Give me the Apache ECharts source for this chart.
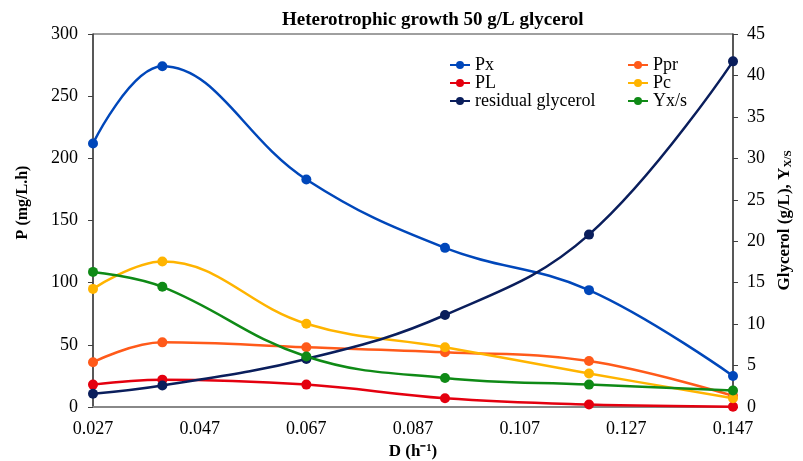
<!DOCTYPE html>
<html>
<head>
  <meta charset="utf-8">
  <title>Heterotrophic growth 50 g/L glycerol</title>
  <script src="https://cdn.jsdelivr.net/npm/echarts@6.0.0/dist/echarts.min.js"></script>
  <style>
    html, body { margin: 0; padding: 0; background: #fff; }
    #chart { width: 803px; height: 461px; }
  </style>
</head>
<body>
  <div id="chart"></div>
  <script>
    // dilution rate D (h-1)
    let dilution = [0.027, 0.040, 0.067, 0.093, 0.120, 0.147];
    let xTicks = [0.027, 0.047, 0.067, 0.087, 0.107, 0.127, 0.147];
    // productivities P (mg/L.h) - left axis
    let px = [212, 274, 183, 128, 94, 25];
    let ppr = [36, 52, 48, 44, 37, 9];
    let pl = [18, 22, 18, 7, 2, 0.3];
    let pc = [95, 117, 67, 48, 27, 7];
    // glycerol (g/L) and Yx/s - right axis
    let glycerol = [1.6, 2.6, 5.8, 11.1, 20.8, 41.7];
    let yxs = [16.3, 14.5, 6.1, 3.5, 2.7, 2.0];

    let font = 'Liberation Serif';

    function pairs(ys) {
      let out = [];
      for (let i = 0; i < ys.length; i++) {
        out.push([dilution[i], ys[i]]);
      }
      return out;
    }

    function line(name, color, ys, axis) {
      return {
        name: name,
        type: 'line',
        yAxisIndex: axis,
        smooth: 0.4,
        symbol: 'circle',
        symbolSize: 10,
        lineStyle: { color: color, width: 2.5 },
        itemStyle: { color: color },
        data: pairs(ys)
      };
    }

    let myChart = echarts.init(document.getElementById('chart'));
    let option = {
      animation: false,
      title: {
        text: 'Heterotrophic growth 50 g/L glycerol',
        left: 277,
        top: 6,
        textStyle: { fontFamily: font, fontSize: 19, fontWeight: 'bold', color: '#000' }
      },
      legend: [
        {
          orient: 'vertical',
          left: 444,
          top: 51,
          itemWidth: 20,
          itemHeight: 10,
          itemGap: 0,
          textStyle: { fontFamily: font, fontSize: 18, color: '#000' },
          data: ['Px', 'PL', 'residual glycerol']
        },
        {
          orient: 'vertical',
          left: 622,
          top: 51,
          itemWidth: 20,
          itemHeight: 10,
          itemGap: 0,
          textStyle: { fontFamily: font, fontSize: 18, color: '#000' },
          data: ['Ppr', 'Pc', 'Yx/s']
        }
      ],
      grid: {
        left: 93, right: 70, top: 34, bottom: 54,
        outerBoundsMode: 'none',
        containLabel: false,
        show: true,
        borderColor: '#404040',
        borderWidth: 1
      },
      xAxis: {
        type: 'value',
        min: 0.027,
        max: 0.147,
        name: 'D (h\u207B\u00B9)',
        nameLocation: 'middle',
        nameGap: 35,
        nameTextStyle: { fontFamily: font, fontSize: 17, fontWeight: 'bold', color: '#000' },
        splitLine: { show: false },
        axisLine: { lineStyle: { color: '#888', width: 2 } },
        axisTick: { show: false },
        axisLabel: {
          customValues: xTicks,
          margin: 13,
          fontFamily: font, fontSize: 18, color: '#000',
          formatter: function (v) { return v.toFixed(3); }
        }
      },
      yAxis: [
        {
          type: 'value',
          min: 0, max: 300, interval: 50,
          name: 'P (mg/L.h)',
          nameLocation: 'middle',
          nameGap: 62,
          nameTextStyle: { fontFamily: font, fontSize: 16, fontWeight: 'bold', color: '#000', padding: [0, 0, 0, 36] },
          splitLine: { show: false },
          axisLine: { show: true, lineStyle: { color: '#404040', width: 1.5 } },
          axisTick: { show: true, inside: false, length: 5, lineStyle: { color: '#404040' } },
          axisLabel: { margin: 15, fontFamily: font, fontSize: 18, color: '#000' }
        },
        {
          type: 'value',
          min: 0, max: 45, interval: 5,
          name: 'Glycerol (g/L), Y{s|X/S}',
          nameLocation: 'middle',
          nameGap: 42,
          nameTextStyle: {
            fontFamily: font, fontSize: 17, fontWeight: 'bold', color: '#000',
            rich: { s: { fontFamily: font, fontSize: 11, fontWeight: 'bold', color: '#000', verticalAlign: 'bottom', padding: [7, 0, 0, 0] } }
          },
          splitLine: { show: false },
          axisLine: { show: true, lineStyle: { color: '#404040', width: 1.5 } },
          axisTick: { show: true, inside: false, length: 5, lineStyle: { color: '#404040' } },
          axisLabel: { margin: 14, fontFamily: font, fontSize: 18, color: '#000' }
        }
      ],
      series: [
        line('Px', '#0047BA', px, 0),
        line('Ppr', '#FF5A1A', ppr, 0),
        line('PL', '#E4000F', pl, 0),
        line('Pc', '#FFB400', pc, 0),
        line('residual glycerol', '#0A1E5C', glycerol, 1),
        line('Yx/s', '#0F8A16', yxs, 1)
      ]
    };
    myChart.setOption(option);
  </script>
</body>
</html>
